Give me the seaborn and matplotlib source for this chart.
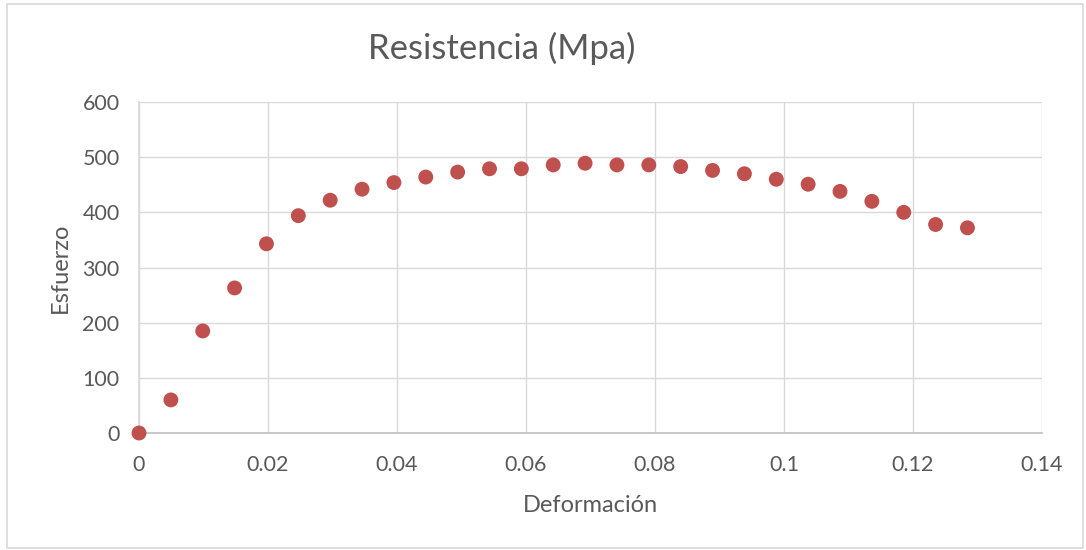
import numpy as np
import pandas as pd
import matplotlib
matplotlib.use("Agg")
import matplotlib.pyplot as plt
import seaborn as sns

# datos
deformacion = [0.0, 0.00494, 0.00988, 0.01482, 0.01976, 0.0247, 0.02964, 0.03458,
               0.03952, 0.04446, 0.0494, 0.05434, 0.05928, 0.06422, 0.06916, 0.0741,
               0.07904, 0.08398, 0.08892, 0.09386, 0.0988, 0.10374, 0.10868, 0.11362,
               0.11856, 0.1235, 0.12844]
esfuerzo = [0, 60, 185, 263, 343, 394, 422, 442, 454, 464, 473, 479, 479, 486, 489,
            486, 486, 483, 476, 470, 460, 451, 438, 420, 400, 378, 372]

df = pd.DataFrame({"Deformación": deformacion, "Esfuerzo": esfuerzo})

sns.set_theme(style="white")
plt.rcParams['font.family'] = ['Lato', 'DejaVu Sans']

fig = plt.figure(figsize=(10.86, 5.5), dpi=100)
ax = fig.add_axes([0.128, 0.2127, 0.8315, 0.6018])

sns.scatterplot(data=df, x="Deformación", y="Esfuerzo", ax=ax,
                color="#c0504d", s=115, edgecolor="none", zorder=3, clip_on=False)

ax.set_xlim(0, 0.14)
ax.set_ylim(0, 600)
ax.set_xticks(np.arange(0, 0.141, 0.02))
ax.set_xticklabels(["0", "0.02", "0.04", "0.06", "0.08", "0.1", "0.12", "0.14"])
ax.set_yticks(range(0, 601, 100))
ax.grid(True, color="#d9d9d9", linewidth=1)
for s in ["top", "right"]:
    ax.spines[s].set_visible(False)
ax.spines["left"].set_color("#d9d9d9")
ax.spines["bottom"].set_color("#bfbfbf")
ax.spines["bottom"].set_linewidth(1.2)
ax.tick_params(axis="x", labelsize=15.5, colors="#595959", length=0, pad=16)
ax.tick_params(axis="y", labelsize=15.5, colors="#595959", length=0, pad=14)
ax.set_xlabel("Deformación", fontsize=17, color="#595959", labelpad=14)
ax.set_ylabel("Esfuerzo", fontsize=17, color="#595959", labelpad=8)

fig.text(0.462, 0.912, "Resistencia (Mpa)", ha="center", va="center",
         fontsize=25, color="#595959")

# marco del gráfico
fig.patches.append(plt.Rectangle((0.0065, 0.004), 0.991, 0.989, transform=fig.transFigure,
                                 fill=False, edgecolor="#d9d9d9", linewidth=1.2))

fig.savefig("out.png", dpi=100)
